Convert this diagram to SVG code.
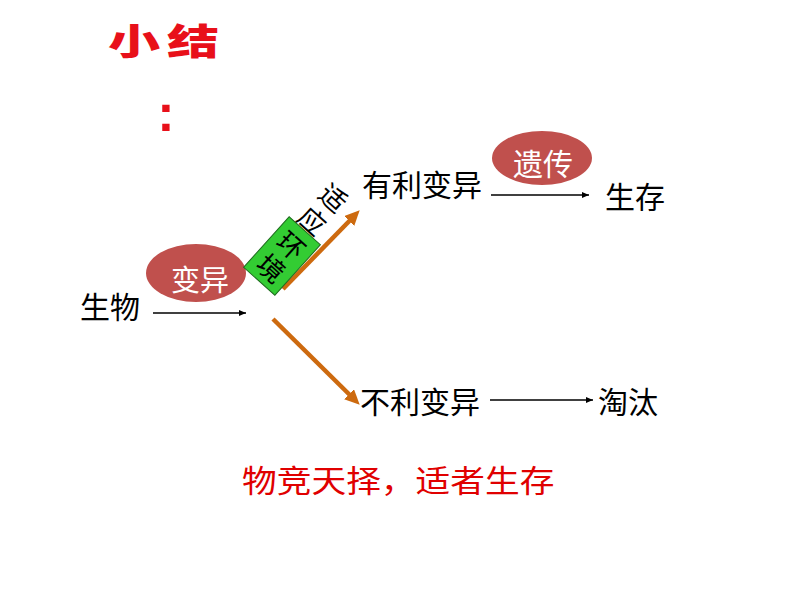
<svg xmlns="http://www.w3.org/2000/svg" width="794" height="596" viewBox="0 0 794 596">
<style>
.cjk{font-family:"Noto Sans CJK SC","Noto Sans",sans-serif}
.blk{fill:#000;font-size:30px}
.red{fill:#E8101A}
.wht{fill:#fff}
.thin{stroke:#000;stroke-width:1.4;fill:none}
.org{stroke:#CD6A0F;stroke-width:4.5;fill:none}
.oval{fill:#C0504D}
</style>
<defs>
<marker id="ah" markerUnits="userSpaceOnUse" markerWidth="8" markerHeight="6" refX="7" refY="3" orient="auto"><path d="M0,0 L7,3 L0,6 z" fill="#000"/></marker>
<marker id="oh" markerUnits="userSpaceOnUse" markerWidth="16" markerHeight="14" refX="4" refY="7" orient="auto"><path d="M0,0 L15,7 L0,14 z" fill="#CD6A0F"/></marker>
</defs>
<rect width="794" height="596" fill="#fff"/>

<g id="title" class="cjk red" font-weight="900" font-size="36">
<text transform="translate(134,55) scale(1.45,1)" text-anchor="middle">小</text>
<text transform="translate(193,55) scale(1.45,1)" text-anchor="middle">结</text>
<text x="166" y="131" text-anchor="middle" font-family="Liberation Sans,sans-serif" font-weight="bold" font-size="52">:</text>
</g>

<g id="connectors">
<line class="thin" x1="153" y1="313" x2="246" y2="313" marker-end="url(#ah)"/>
<line class="thin" x1="491" y1="195" x2="589" y2="195" marker-end="url(#ah)"/>
<line class="thin" x1="490" y1="400" x2="593" y2="400" marker-end="url(#ah)"/>
<line class="org" x1="283" y1="289" x2="352" y2="218.2" marker-end="url(#oh)"/>
<line class="org" x1="273" y1="319" x2="351.9" y2="397" marker-end="url(#oh)"/>
</g>

<g id="n-shengwu"><text class="cjk blk" x="80" y="318" font-size="28">生物</text></g>

<g id="n-bianyi">
<ellipse class="oval" cx="196" cy="273" rx="50" ry="29"/>
<text class="cjk wht" x="200" y="291" font-size="29" text-anchor="middle">变异</text>
</g>

<g id="n-shiying" class="cjk" font-size="27">
<g transform="translate(334,197) rotate(42)"><text text-anchor="middle" dominant-baseline="central" x="0" y="0">适</text></g>
<g transform="translate(313,220) rotate(42)"><text text-anchor="middle" dominant-baseline="central" x="0" y="0">应</text></g>
</g>

<g id="n-huanjing" class="cjk" font-size="27">
<g transform="translate(282,256) rotate(42)">
<rect x="-21" y="-34" width="42" height="68" fill="#33CC33" stroke="#1E6B1E" stroke-width="1"/>
<text text-anchor="middle" dominant-baseline="central" x="0" y="-15">环</text>
<text text-anchor="middle" dominant-baseline="central" x="0" y="15">境</text>
</g>
</g>

<g id="n-youli"><text class="cjk blk" x="362" y="196">有利变异</text></g>

<g id="n-yichuan">
<ellipse class="oval" cx="542" cy="158" rx="50" ry="27"/>
<text class="cjk wht" x="543" y="175" font-size="30" text-anchor="middle">遗传</text>
</g>

<g id="n-shengcun"><text class="cjk blk" x="605" y="208">生存</text></g>

<g id="n-buli"><text class="cjk blk" x="360" y="413">不利变异</text></g>

<g id="n-taotai"><text class="cjk blk" x="598" y="413">淘汰</text></g>

<g id="summary"><text class="cjk" transform="translate(242,492) scale(1.12,1)" font-size="31" fill="#E00000">物竞天择，适者生存</text></g>
</svg>
